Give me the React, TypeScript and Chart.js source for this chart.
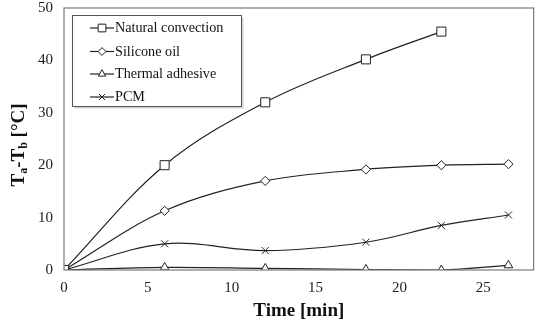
import React, { useEffect, useRef } from "react";
import { Chart, registerables } from "chart.js";
import { drawPoint } from "chart.js/helpers";

Chart.register(...registerables);

const seriesLabels = ["Natural convection", "Silicone oil", "Thermal adhesive", "PCM"];
const pointStyles = ["rect", "rectRot", "triangle", "crossRot"];
const pointRadii = [6.4, 4.6, 5, 5];

const naturalX = [0, 6, 12, 18, 22.5];
const naturalY = [0, 20, 32, 40.2, 45.5];
const timeX = [0, 6, 12, 18, 22.5, 26.5];
const siliconeY = [0, 11.3, 17, 19.2, 20, 20.2];
const adhesiveY = [0, 0.5, 0.3, 0.1, 0, 0.9];
const pcmY = [0, 5, 3.7, 5.3, 8.5, 10.5];

const xTicks = [0, 5, 10, 15, 20, 25];
const yTicks = [0, 10, 20, 30, 40, 50];

const FONT = "'Liberation Serif', 'Times New Roman', serif";

const framePlugin = {
  id: "frame",
  afterDatasetsDraw(chart: any) {
    const { ctx, chartArea: a } = chart;
    ctx.save();
    ctx.strokeStyle = "#7a7a7a";
    ctx.lineWidth = 1.2;
    ctx.strokeRect(a.left, a.top, a.right - a.left, a.bottom - a.top);
    ctx.restore();
  },
  afterDraw(chart: any) {
    const { ctx } = chart;
    // Legend
    const bx = 72.5, by = 15.5, bw = 169, bh = 91;
    ctx.save();
    ctx.fillStyle = "#d4d4d4";
    ctx.fillRect(bx + 2, by + 2, bw, bh);
    ctx.fillStyle = "#ffffff";
    ctx.fillRect(bx, by, bw, bh);
    ctx.strokeStyle = "#555";
    ctx.lineWidth = 1;
    ctx.strokeRect(bx, by, bw, bh);
    const rowsY = [28, 51.5, 74, 97];
    chart.data.datasets.forEach((ds: any, i: number) => {
      const y = rowsY[i];
      ctx.strokeStyle = "#222";
      ctx.lineWidth = 1.2;
      ctx.beginPath();
      ctx.moveTo(90, y);
      ctx.lineTo(114, y);
      ctx.stroke();
      ctx.fillStyle = "#fff";
      ctx.strokeStyle = "#222";
      ctx.lineWidth = 1;
      drawPoint(ctx, { pointStyle: ds.pointStyle, radius: ds.pointRadius * 0.85, rotation: 0, borderWidth: 1 } as any, 102, y);
      ctx.fillStyle = "#111";
      ctx.font = `14.2px ${FONT}`;
      ctx.textBaseline = "middle";
      ctx.textAlign = "left";
      ctx.fillText(ds.label, 115, y + 0.5);
    });
    // Y axis title with subscripts
    const big = `bold 19px ${FONT}`;
    const small = `bold 12px ${FONT}`;
    const parts: [string, string, number][] = [
      ["T", big, 0],
      ["a", small, 5],
      ["-T", big, 0],
      ["b", small, 5],
      [" [°C]", big, 0],
    ];
    let total = 0;
    parts.forEach(([t, f]) => {
      ctx.font = f;
      total += ctx.measureText(t).width;
    });
    ctx.translate(19, 145);
    ctx.rotate(-Math.PI / 2);
    let x = -total / 2;
    ctx.fillStyle = "#111";
    ctx.textBaseline = "middle";
    ctx.textAlign = "left";
    parts.forEach(([t, f, dy]) => {
      ctx.font = f;
      ctx.fillText(t, x, dy);
      x += ctx.measureText(t).width;
    });
    ctx.restore();
  },
};

export default function App() {
  const ref = useRef<HTMLCanvasElement>(null);
  useEffect(() => {
    document.body.style.margin = "0";
    const mk = (label: string, xs: number[], ys: number[], i: number) => ({
      label,
      data: xs.map((x, k) => ({ x, y: ys[k] })),
      borderColor: "#222",
      borderWidth: 1.2,
      backgroundColor: "#fff",
      pointBackgroundColor: "#fff",
      pointBorderColor: "#222",
      pointBorderWidth: 1,
      pointStyle: pointStyles[i],
      pointRadius: pointRadii[i],
      tension: 0.35,
      cubicInterpolationMode: "default",
      fill: false,
    });
    const chart = new Chart(ref.current!, {
      type: "line",
      data: {
        datasets: [
          mk(seriesLabels[0], naturalX, naturalY, 0),
          mk(seriesLabels[1], timeX, siliconeY, 1),
          mk(seriesLabels[2], timeX, adhesiveY, 2),
          mk(seriesLabels[3], timeX, pcmY, 3),
        ] as any,
      },
      options: {
        animation: false,
        responsive: false,
        layout: { padding: { top: 8, right: 4, left: 0, bottom: 0 } },
        plugins: { legend: { display: false }, tooltip: { enabled: false } },
        scales: {
          x: {
            type: "linear",
            min: 0,
            max: 28,
            grid: { display: false, drawTicks: false },
            border: { display: false },
            afterBuildTicks: (s: any) => {
              s.ticks = xTicks.map((v) => ({ value: v }));
            },
            afterFit: (s: any) => {
              s.height = 52;
              s.paddingLeft = 0;
              s.paddingRight = 0;
            },
            ticks: { color: "#222", font: { family: FONT, size: 15 }, padding: 9, maxRotation: 0 },
            title: {
              display: true,
              text: "Time [min]",
              color: "#111",
              font: { family: FONT, size: 19, weight: "bold" },
              padding: { top: 0, bottom: 0 },
            },
          },
          y: {
            min: 0,
            max: 50,
            grid: { display: false, drawTicks: false },
            border: { display: false },
            afterBuildTicks: (s: any) => {
              s.ticks = yTicks.map((v) => ({ value: v }));
            },
            afterFit: (s: any) => {
              s.width = 64;
              s.paddingTop = 0;
              s.paddingBottom = 0;
            },
            ticks: { color: "#222", font: { family: FONT, size: 15 }, padding: 11 },
          },
        },
      },
      plugins: [framePlugin],
    });
    return () => chart.destroy();
  }, []);
  return (
    <div style={{ position: "absolute", left: 0, top: 0, width: 541, height: 322, background: "#fff" }}>
      <canvas ref={ref} width={541} height={322} style={{ width: 541, height: 322 }} />
    </div>
  );
}
